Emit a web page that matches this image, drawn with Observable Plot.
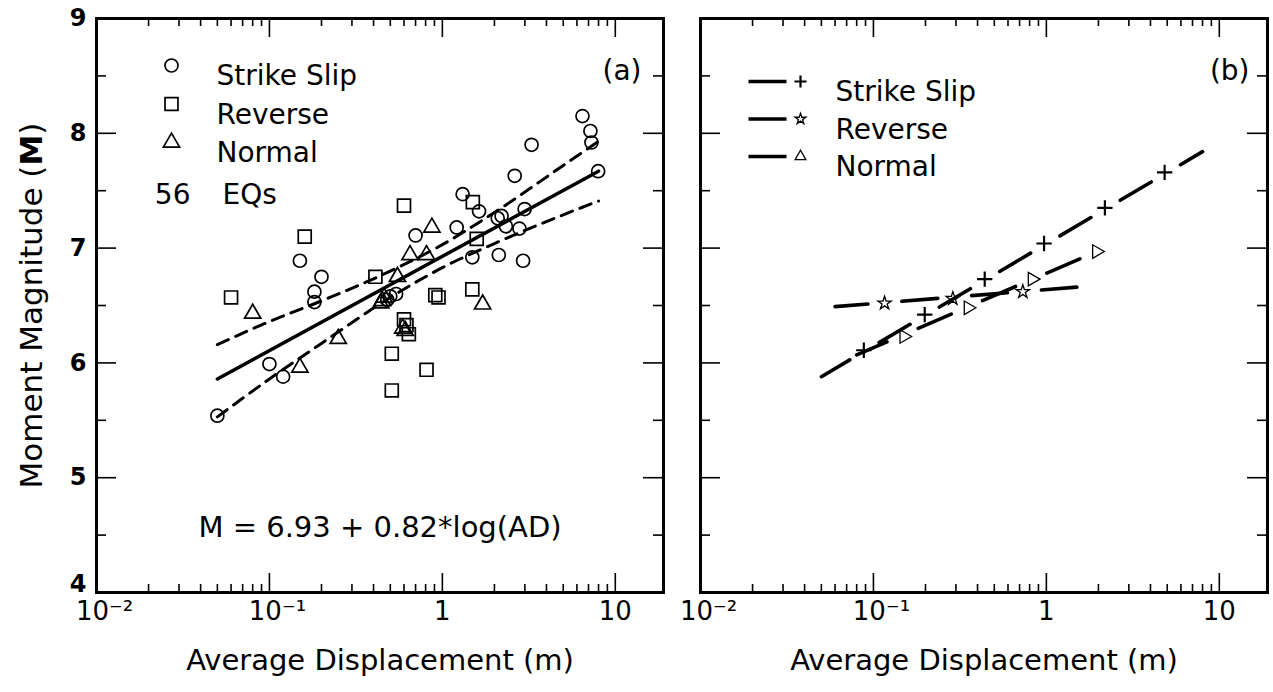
<!DOCTYPE html>
<html><head><meta charset="utf-8">
<script src="https://cdn.jsdelivr.net/npm/d3@7"></script>
<script src="https://cdn.jsdelivr.net/npm/@observablehq/plot@0.6"></script>
<style>
body{margin:0;background:#fff;}
#chart{position:relative;width:1273px;height:692px;overflow:hidden;background:#fff;}
#chart svg{position:absolute;top:0;}
</style></head><body><div id="chart"></div>
<script>
// ---- Panel (a) data: average displacement (m) and moment magnitude ----
const strikeSlipAD = [0.050,0.100,0.120,0.150,0.200,0.182,0.182,0.50,0.54,0.48,0.70,1.21,1.31,1.63,1.49,2.09,2.20,2.33,2.12,2.79,2.99,2.93,2.62,3.28,6.46,7.18,7.28,7.96];
const strikeSlipM  = [5.54,5.99,5.88,6.89,6.75,6.62,6.53,6.58,6.60,6.55,7.11,7.18,7.47,7.32,6.92,7.26,7.28,7.19,6.94,7.17,7.34,6.89,7.63,7.90,8.15,8.02,7.92,7.67];
const reverseAD = [0.060,0.160,0.41,0.60,0.91,0.95,1.50,1.58,1.49,0.60,0.64,0.62,0.51,0.81,0.51];
const reverseM  = [6.57,7.10,6.75,7.37,6.59,6.57,7.40,7.08,6.64,6.38,6.25,6.33,6.08,5.94,5.76];
const normalAD = [0.080,0.15,0.25,0.45,0.44,0.46,0.55,0.65,0.81,0.87,1.71,0.61,0.59];
const normalM  = [6.43,5.96,6.21,6.54,6.52,6.57,6.75,6.94,6.94,7.18,6.51,6.28,6.30];
// regression line and confidence bands
const fitAD = [0.05, 8];
const fitM  = [5.86, 7.67];
const bandAD = [0.05,0.1,0.2,0.5,1,2,5,8];
const bandUpperM = [6.16,6.36,6.54,6.80,7.03,7.31,7.72,7.93];
const bandLowerM = [5.53,5.86,6.17,6.57,6.83,7.04,7.29,7.41];
// ---- Panel (b) data: regression lines by slip type ----
const ssLineAD = [0.05, 8],   ssLineM = [5.88, 7.84];
const rvLineAD = [0.06, 1.5], rvLineM = [6.49, 6.66];
const nmLineAD = [0.08, 2.1], nmLineM = [6.07, 6.99];
const ssMarkAD = [0.088,0.198,0.44,0.97,2.18,4.83], ssMarkM = [6.11,6.42,6.73,7.04,7.35,7.66];
const rvMarkAD = [0.116,0.288,0.731],               rvMarkM = [6.52,6.56,6.62];
const nmMarkAD = [0.150,0.353,0.828,1.95],          nmMarkM = [6.23,6.48,6.73,6.97];
// ---- axes ----
const xTickValues = [0.01, 0.1, 1, 10];
const xTickLabels = ["10\u207B\u00B2", "10\u207B\u00B9", "1", "10"];
const xMajorTicks = [0.1, 1, 10];
const xMinorTicks = [0.02,0.03,0.04,0.05,0.06,0.07,0.08,0.09,0.2,0.3,0.4,0.5,0.6,0.7,0.8,0.9,2,3,4,5,6,7,8,9];
const yTickValues = [5,6,7,8,9];
const yBottomTick = [4];
const yMajorTicks = [5,6,7,8];
const yMinorTicks = [4.5,5.5,6.5,7.5,8.5];
const legendA = ["Strike Slip","Reverse","Normal"];
const legendB = ["Strike Slip","Reverse","Normal"];
const countLabel = ["56", "EQs"];
const equation = "M = 6.93 + 0.82*log(AD)";
const xTitle = "Average Displacement (m)";
const yTitle = "Moment Magnitude (M)";

const FONT = "DejaVu Sans";
const H = 692, MT = 18, MB = 100;
const FH = H - MT - MB;
const zip = (a, b) => a.map((v, i) => ({ad: v, m: b[i]}));
const lineSym = {draw(ctx) { ctx.moveTo(-19, 0); ctx.lineTo(19, 0); }};

function frameAndTicks(FW) {
  const k = {stroke: "black", strokeWidth: 1.6};
  return [
    Plot.tickX(xMajorTicks, {x: d => d, insetTop: FH - 19, ...k}),
    Plot.tickX(xMajorTicks, {x: d => d, insetBottom: FH - 19, ...k}),
    Plot.tickX(xMinorTicks, {x: d => d, insetTop: FH - 8, ...k}),
    Plot.tickX(xMinorTicks, {x: d => d, insetBottom: FH - 8, ...k}),
    Plot.tickY(yMajorTicks, {y: d => d, insetRight: FW - 20, ...k}),
    Plot.tickY(yMajorTicks, {y: d => d, insetLeft: FW - 20, ...k}),
    Plot.tickY(yMinorTicks, {y: d => d, insetRight: FW - 10, ...k}),
    Plot.tickY(yMinorTicks, {y: d => d, insetLeft: FW - 10, ...k}),
    Plot.frame({stroke: "black", strokeWidth: 3}),
    Plot.text(xTickValues.slice(0, 2), {x: d => d, text: (d, i) => xTickLabels[i], frameAnchor: "bottom", lineAnchor: "top", dy: 9, dx: 8, fontSize: 26, fill: "black"}),
    Plot.text(xTickValues.slice(2), {x: d => d, text: (d, i) => xTickLabels[i + 2], frameAnchor: "bottom", lineAnchor: "top", dy: 9, fontSize: 26, fill: "black"}),
    Plot.text([xTitle], {frameAnchor: "bottom", lineAnchor: "middle", dy: 68, fontSize: 29, fill: "black"})
  ];
}

function base(width, ml, mr, marks) {
  return Plot.plot({
    width, height: H, marginTop: MT, marginBottom: MB, marginLeft: ml, marginRight: mr,
    x: {type: "log", domain: [0.01, 19], axis: null},
    y: {domain: [4, 9], axis: null},
    style: {fontFamily: FONT, background: "transparent", overflow: "visible", color: "black"},
    marks
  });
}

// ---------- Panel (a) ----------
const WA = 680, MLA = 96, MRA = 17, FWA = WA - MLA - MRA;
const symA = [["circle", 6.5], ["square", 7.3], ["triangle", 6]];
const marksA = [
  ...frameAndTicks(FWA),
  Plot.text(yTickValues, {y: d => d, text: d => String(d), frameAnchor: "left", dx: -10, textAnchor: "end", fontSize: 24, fontWeight: "bold", fill: "black"}),
  Plot.text(yBottomTick, {y: d => d, text: d => String(d), frameAnchor: "left", dx: -10, dy: -8, textAnchor: "end", fontSize: 24, fontWeight: "bold", fill: "black"}),
  Plot.text([yTitle], {frameAnchor: "left", dx: -64, rotate: -90, textAnchor: "middle", fontSize: 31, fill: "black"}),
  Plot.line(zip(bandAD, bandUpperM), {x: "ad", y: "m", curve: "monotone-x", stroke: "black", strokeWidth: 3, strokeDasharray: "12,8"}),
  Plot.line(zip(bandAD, bandLowerM), {x: "ad", y: "m", curve: "monotone-x", stroke: "black", strokeWidth: 3, strokeDasharray: "12,8"}),
  Plot.line(zip(fitAD, fitM), {x: "ad", y: "m", stroke: "black", strokeWidth: 3.5}),
  Plot.dot(zip(strikeSlipAD, strikeSlipM), {x: "ad", y: "m", symbol: "circle", r: 6.5, stroke: "black", strokeWidth: 1.7, fill: "none"}),
  Plot.dot(zip(reverseAD, reverseM), {x: "ad", y: "m", symbol: "square", r: 7.3, stroke: "black", strokeWidth: 1.7, fill: "none"}),
  Plot.dot(zip(normalAD, normalM), {x: "ad", y: "m", symbol: "triangle", r: 6, stroke: "black", strokeWidth: 1.7, fill: "none"}),
  Plot.text([equation], {frameAnchor: "bottom", dy: -56, fontSize: 29, fill: "black"}),
  Plot.text(["(a)"], {frameAnchor: "top-right", dx: -22, dy: 42, textAnchor: "end", fontSize: 28, fill: "black"}),
  ...legendA.flatMap((lab, i) => [
    Plot.dot([lab], {frameAnchor: "top-left", dx: 75, dy: 47 + i * 38.5, symbol: symA[i][0], r: symA[i][1], stroke: "black", strokeWidth: 1.7, fill: "none"}),
    Plot.text([lab], {frameAnchor: "top-left", dx: 120, dy: 47 + i * 38.5, textAnchor: "start", fontSize: 28, fill: "black"})
  ]),
  Plot.text([countLabel[0]], {frameAnchor: "top-left", dx: 94, dy: 166, textAnchor: "end", fontSize: 28, fill: "black"}),
  Plot.text([countLabel[1]], {frameAnchor: "top-left", dx: 126, dy: 166, textAnchor: "start", fontSize: 28, fill: "black"})
];
const svgA = base(WA, MLA, MRA, marksA);

// ---------- Panel (b) ----------
const WB = 1273 - WA, MLB = 20, MRB = 6, FWB = WB - MLB - MRB;
const dashB = {stroke: "black", strokeWidth: 3.6, strokeDasharray: "36,34", strokeDashoffset: 3};
const markB = [["plus", 4, 2.2, "black"], ["star", 3.4, 1.3, "none"], ["triangle", 4, 1.3, "none"]];
const marksB = [
  ...frameAndTicks(FWB),
  Plot.line(zip(ssLineAD, ssLineM), {x: "ad", y: "m", ...dashB}),
  Plot.line(zip(rvLineAD, rvLineM), {x: "ad", y: "m", ...dashB}),
  Plot.line(zip(nmLineAD, nmLineM), {x: "ad", y: "m", ...dashB}),
  Plot.dot(zip(ssMarkAD, ssMarkM), {x: "ad", y: "m", symbol: "plus", r: 5, stroke: "black", strokeWidth: 2.2}),
  Plot.dot(zip(rvMarkAD, rvMarkM), {x: "ad", y: "m", symbol: "star", r: 4.2, stroke: "black", strokeWidth: 1.3, fill: "none"}),
  Plot.dot(zip(nmMarkAD, nmMarkM), {x: "ad", y: "m", symbol: "triangle", r: 5, rotate: 90, stroke: "black", strokeWidth: 1.3, fill: "none"}),
  Plot.text(["(b)"], {frameAnchor: "top-right", dx: -18, dy: 42, textAnchor: "end", fontSize: 28, fill: "black"}),
  ...legendB.flatMap((lab, i) => [
    Plot.dot([lab], {frameAnchor: "top-left", dx: 67, dy: 63 + i * 37.5, symbol: lineSym, r: 5, stroke: "black", strokeWidth: 3.6}),
    Plot.dot([lab], {frameAnchor: "top-left", dx: 100, dy: 63 + i * 37.5, symbol: markB[i][0], r: markB[i][1], stroke: "black", strokeWidth: markB[i][2], fill: markB[i][3]}),
    Plot.text([lab], {frameAnchor: "top-left", dx: 135, dy: 63 + i * 37.5, textAnchor: "start", fontSize: 28, fill: "black"})
  ])
];
const svgB = base(WB, MLB, MRB, marksB);

const host = document.getElementById("chart");
svgA.style.left = "0px";
svgB.style.left = WA + "px";
host.appendChild(svgA);
host.appendChild(svgB);

// bold M in the y-axis title
d3.select(svgA).selectAll("text").filter(function () { return this.textContent === yTitle; })
  .each(function () {
    const t = d3.select(this);
    t.text("");
    t.append("tspan").text("Moment Magnitude (");
    t.append("tspan").attr("font-weight", "bold").text("M");
    t.append("tspan").text(")");
  });
</script>
</body></html>
